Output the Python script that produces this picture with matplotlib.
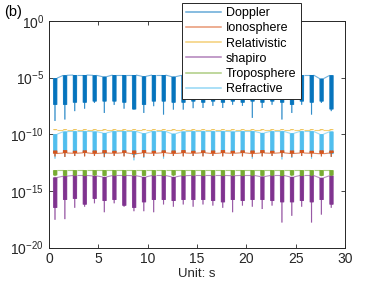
import numpy as np
import matplotlib
matplotlib.use("Agg")
import matplotlib.pyplot as plt
from matplotlib.collections import LineCollection
from matplotlib.lines import Line2D
from matplotlib.colors import to_rgba
from matplotlib.ticker import FixedLocator, FuncFormatter, NullLocator

plt.rcParams['font.family'] = ['Liberation Sans', 'DejaVu Sans']
plt.rcParams['mathtext.fontset'] = 'custom'
plt.rcParams['mathtext.rm'] = 'Liberation Sans'
plt.rcParams['mathtext.it'] = 'Liberation Sans:italic'
plt.rcParams['mathtext.bf'] = 'Liberation Sans:bold'

# ---------------- data ----------------
burst_t = [0.45, 1.45, 2.45, 3.45, 4.45, 5.45, 6.45, 7.45, 8.45, 9.45,
           10.45, 11.45, 12.45, 13.45, 14.45, 15.45, 16.45, 17.45, 18.45, 19.45,
           20.45, 21.45, 22.45, 23.45, 24.45, 25.45, 26.45, 27.45, 28.45]

series_names = ['Doppler', 'Ionosphere', 'Relativistic', 'shapiro', 'Troposphere', 'Refractive']

doppler_top = [9e-6, 1.6e-5, 1.7e-5, 1.7e-5, 1.6e-5, 1.2e-5, 1.7e-5, 1.7e-5, 1.7e-5, 1.3e-5,
               1.7e-5, 1.7e-5, 1.2e-5, 1.6e-5, 1.7e-5, 1.7e-5, 1.7e-5, 1.7e-5, 1.6e-5, 1.7e-5,
               1.7e-5, 1.7e-5, 1.7e-5, 1.7e-5, 1.7e-5, 1.7e-5, 1.7e-5, 8e-6, 1.6e-5]
doppler_bar = [4e-8, 4e-8, 6.3e-8, 6.3e-8, 8e-8, 8e-8, 8e-8, 6.3e-8, 1.6e-8, 4e-8,
               8e-8, 8e-8, 6.3e-8, 6.3e-8, 8e-8, 6.3e-8, 8e-8, 6.3e-8, 8e-8, 6.3e-8,
               8e-8, 6.3e-8, 8e-8, 6.3e-8, 4e-8, 8e-8, 6.3e-8, 8e-8, 1.6e-8]
doppler_spike = [1.5e-9, 2e-9, 1.1e-8, 1.8e-8, 5.8e-8, 7.6e-9, 3.9e-8, 1.8e-8, 1.5e-8, 7.6e-9,
                 3e-8, 5.4e-9, 1.5e-8, 1.5e-8, 2e-8, 2.1e-8, 3.2e-8, 2.1e-8, 4e-8, 3.2e-8,
                 2.8e-9, 2.1e-8, 4e-8, 2e-9, 7.6e-9, 4e-8, 5.4e-9, 5.8e-8, 1.1e-8]

iono_top = [2.0e-12, 2.2e-12, 2.1e-12, 2.3e-12, 2.0e-12, 2.2e-12, 2.1e-12, 2.3e-12, 1.9e-12, 2.2e-12,
            2.1e-12, 2.3e-12, 2.0e-12, 2.2e-12, 2.1e-12, 2.3e-12, 2.0e-12, 2.2e-12, 2.1e-12, 2.3e-12,
            2.0e-12, 2.2e-12, 2.1e-12, 2.3e-12, 2.0e-12, 2.2e-12, 2.1e-12, 1.9e-12, 2.2e-12]
iono_bar = [3.5e-12, 3.8e-12, 3.4e-12, 3.6e-12, 3.5e-12, 3.8e-12, 3.4e-12, 3.6e-12, 3.5e-12, 3.8e-12,
            3.4e-12, 3.6e-12, 3.5e-12, 3.8e-12, 3.4e-12, 3.6e-12, 3.5e-12, 3.8e-12, 3.4e-12, 3.6e-12,
            3.5e-12, 3.8e-12, 3.4e-12, 3.6e-12, 3.5e-12, 3.8e-12, 3.4e-12, 3.6e-12, 3.5e-12]
iono_spike = [1.1e-12, 1.0e-12, 1.2e-12, 1.1e-12, 1.2e-12, 1.0e-12, 1.2e-12, 1.1e-12, 0.9e-12, 1.0e-12,
              1.2e-12, 1.1e-12, 1.2e-12, 1.1e-12, 1.2e-12, 1.1e-12, 1.2e-12, 1.1e-12, 1.2e-12, 1.1e-12,
              1.0e-12, 1.1e-12, 1.2e-12, 1.0e-12, 1.0e-12, 1.2e-12, 1.0e-12, 1.1e-12, 1.0e-12]

rel_top = [2.6e-10] * 29
rel_bar = [2.45e-10] * 29
rel_spike = [2.35e-10] * 29

shapiro_top = [1.5e-14, 2.0e-14, 2.3e-14, 2.3e-14, 2.1e-14, 1.7e-14, 2.3e-14, 2.3e-14, 2.2e-14, 1.7e-14,
               2.3e-14, 2.3e-14, 1.7e-14, 2.2e-14, 2.3e-14, 2.3e-14, 2.3e-14, 2.3e-14, 2.2e-14, 2.3e-14,
               2.3e-14, 1.8e-14, 2.3e-14, 2.3e-14, 1.7e-14, 2.3e-14, 2.3e-14, 1.4e-14, 2.2e-14]
shapiro_bar = [3.2e-17, 1.6e-16, 2.0e-16, 6.3e-17, 2.0e-16, 1.3e-16, 1.6e-16, 5.0e-17, 3.2e-17, 1.0e-16,
               1.6e-16, 1.6e-16, 1.3e-16, 1.6e-16, 1.6e-16, 1.6e-16, 1.3e-16, 1.0e-16, 1.6e-16, 1.3e-16,
               1.6e-16, 1.6e-16, 1.3e-16, 1.0e-16, 1.0e-16, 1.3e-16, 1.0e-16, 1.6e-16, 6.3e-17]
shapiro_spike = [2.8e-18, 3.2e-18, 3.2e-17, 4.0e-17, 8.0e-17, 1.3e-17, 8.0e-17, 4.0e-17, 1.6e-17, 1.6e-17,
                 1.3e-17, 6.3e-17, 4.0e-17, 6.3e-17, 4.0e-17, 6.3e-17, 5.0e-17, 3.2e-17, 1.3e-17, 5.0e-17,
                 4.0e-17, 2.5e-17, 5.0e-17, 1.6e-18, 6.3e-18, 4.0e-17, 1.6e-18, 8.0e-18, 3.2e-17]

tropo_top = [6.6e-14] * 29
tropo_bar = [2.4e-14, 2.2e-14, 2.4e-14, 2.2e-14, 2.4e-14, 2.2e-14, 2.4e-14, 2.2e-14, 2.4e-14, 2.2e-14,
             2.4e-14, 2.2e-14, 2.4e-14, 2.2e-14, 2.4e-14, 2.2e-14, 2.4e-14, 2.2e-14, 2.4e-14, 2.2e-14,
             2.4e-14, 2.2e-14, 2.4e-14, 2.2e-14, 2.4e-14, 2.2e-14, 2.4e-14, 2.2e-14, 2.4e-14]
tropo_spike = [2.0e-14] * 29

refr_top = [1.0e-10, 1.7e-10, 1.8e-10, 1.8e-10, 1.7e-10, 1.3e-10, 1.8e-10, 1.8e-10, 1.8e-10, 1.2e-10,
            1.8e-10, 1.8e-10, 1.1e-10, 1.7e-10, 1.8e-10, 1.8e-10, 1.8e-10, 1.8e-10, 1.7e-10, 1.8e-10,
            1.8e-10, 1.3e-10, 1.8e-10, 1.8e-10, 1.2e-10, 1.8e-10, 1.8e-10, 1.0e-10, 1.7e-10]
refr_bar = [2.2e-12, 2.2e-12, 2.5e-12, 2.5e-12, 2.5e-12, 2.0e-12, 2.5e-12, 2.5e-12, 1.5e-12, 2.2e-12,
            2.5e-12, 2.5e-12, 2.2e-12, 2.5e-12, 2.5e-12, 2.2e-12, 2.5e-12, 2.5e-12, 2.5e-12, 2.2e-12,
            2.5e-12, 2.2e-12, 2.5e-12, 2.2e-12, 2.0e-12, 2.5e-12, 2.2e-12, 2.5e-12, 1.8e-12]
refr_spike = [7e-13, 1.0e-12, 1.2e-12, 1.2e-12, 1.5e-12, 9e-13, 1.4e-12, 1.2e-12, 5e-13, 8e-13,
              1.3e-12, 7e-13, 1.2e-12, 1.2e-12, 1.2e-12, 1.2e-12, 1.3e-12, 1.2e-12, 1.3e-12, 1.2e-12,
              7e-13, 1.2e-12, 1.3e-12, 6e-13, 8e-13, 1.3e-12, 7e-13, 1.4e-12, 1.0e-12]

# ---------------- style ----------------
colors = ['#0072BD', '#D95319', '#EDB120', '#7E2F8E', '#77AC30', '#4DBEEE']
alphas = [0.55, 0.7, 0.6, 0.55, 0.6, 0.55]
zorders = [2, 4, 3, 2, 2, 2]
burst_width = 0.36
pattern = ['top', 'bar', 'top', 'bar', 'top', 'bar', 'top', 'spike', 'top',
           'bar', 'top', 'bar', 'top', 'bar', 'top', 'bar', 'top']


def build(top, bar, spike):
    ts, vs = [], []
    offs = np.linspace(0, burst_width, len(pattern))
    for k, t0 in enumerate(burst_t):
        lookup = {'top': top[k], 'bar': bar[k], 'spike': spike[k]}
        for o, p in zip(offs, pattern):
            ts.append(t0 + o)
            vs.append(lookup[p])
    return np.array(ts), np.array(vs)


all_data = [
    (doppler_top, doppler_bar, doppler_spike),
    (iono_top, iono_bar, iono_spike),
    (rel_top, rel_bar, rel_spike),
    (shapiro_top, shapiro_bar, shapiro_spike),
    (tropo_top, tropo_bar, tropo_spike),
    (refr_top, refr_bar, refr_spike),
]

fig = plt.figure(figsize=(3.82, 2.86), dpi=100)
ax = fig.add_axes([49 / 382, 1 - 247.5 / 286, (345 - 49) / 382, (247.5 - 21) / 286])
ax.set_yscale('log')

handles = []
for name, col, a, z, (tp, br, sp) in zip(series_names, colors, alphas, zorders, all_data):
    t, v = build(tp, br, sp)
    pts = np.column_stack([t, v])
    segs = np.stack([pts[:-1], pts[1:]], axis=1)
    lc = LineCollection(segs, colors=[to_rgba(col, a)], linewidths=0.8, zorder=z)
    ax.add_collection(lc)
    handles.append(Line2D([], [], color=to_rgba(col, 0.6), lw=1.1, label=name))

ax.set_xlim(0, 30)
ax.set_ylim(1e-20, 1e0)
ax.xaxis.set_major_locator(FixedLocator([0, 5, 10, 15, 20, 25, 30]))
ax.yaxis.set_major_locator(FixedLocator([1e-20, 1e-15, 1e-10, 1e-5, 1e0]))
ax.yaxis.set_minor_locator(NullLocator())
ax.yaxis.set_major_formatter(FuncFormatter(lambda v, p: r'$10^{%d}$' % int(round(np.log10(v)))))

edge = '#262626'
for s in ax.spines.values():
    s.set_color(edge)
    s.set_linewidth(0.7)
ax.tick_params(axis='both', which='both', direction='in', length=3, width=0.6,
               top=True, right=True, colors=edge, labelsize=10, labelcolor=edge)
ax.set_xlabel('Unit: s', fontsize=9.5, color=edge, labelpad=1)

leg = ax.legend(handles=handles, loc='upper left', bbox_to_anchor=(182 / 382, 1 - 3 / 286),
                bbox_transform=fig.transFigure, fontsize=9, frameon=True, fancybox=False,
                borderaxespad=0, borderpad=0.35, labelspacing=0.25, handlelength=2.8,
                handletextpad=0.35)
leg.set_zorder(10)
leg.get_frame().set_edgecolor(edge)
leg.get_frame().set_linewidth(0.7)
leg.get_frame().set_alpha(1)

fig.text(4 / 382, 1 - 16 / 286, '(b)', fontsize=10.5, color='black')

fig.savefig('out.png', dpi=100)
